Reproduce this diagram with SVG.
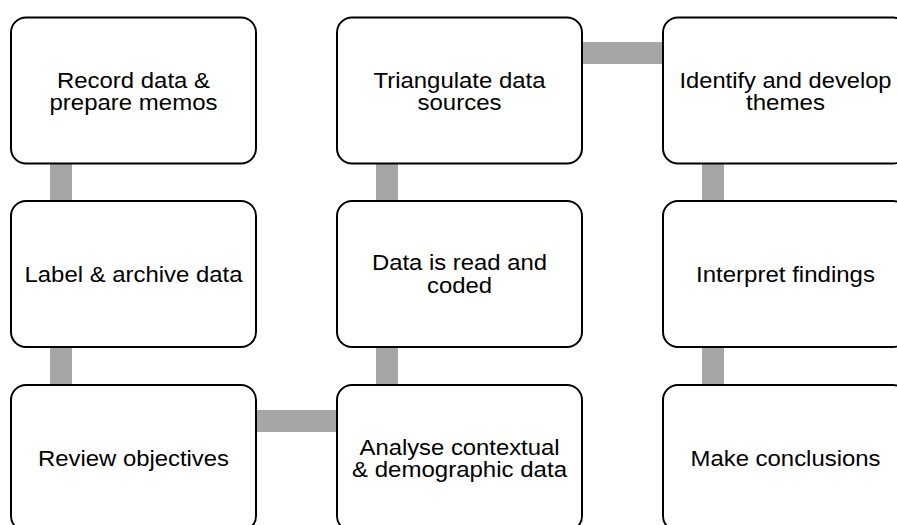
<svg xmlns="http://www.w3.org/2000/svg" width="897" height="525" viewBox="0 0 897 525">
  <style>
    .box { fill: #ffffff; stroke: #000000; stroke-width: 2; }
    .link { fill: #a6a6a6; stroke: none; }
    .label { font-family: "Liberation Sans", Arial, sans-serif; font-size: 21.5px; fill: #000000; text-anchor: middle; }
  </style>
  <rect width="897" height="525" fill="#ffffff"/>

  <!-- connectors -->
  <g id="connectors">
    <rect class="link" x="50" y="163" width="22" height="39"/>
    <rect class="link" x="50" y="347" width="22" height="39"/>
    <rect class="link" x="256" y="410" width="82" height="22"/>
    <rect class="link" x="376" y="347" width="22" height="39"/>
    <rect class="link" x="376" y="163" width="22" height="39"/>
    <rect class="link" x="582" y="42" width="82" height="22"/>
    <rect class="link" x="702" y="163" width="22" height="39"/>
    <rect class="link" x="702" y="347" width="22" height="39"/>
  </g>

  <!-- column 1 -->
  <g id="record-data">
    <rect class="box" x="11" y="17.5" width="245" height="146" rx="15"/>
    <text class="label" x="133.5" y="87.5" textLength="153" lengthAdjust="spacingAndGlyphs">Record data &amp;</text>
    <text class="label" x="133.5" y="110" textLength="168" lengthAdjust="spacingAndGlyphs">prepare memos</text>
  </g>
  <g id="label-archive">
    <rect class="box" x="11" y="201" width="245" height="146" rx="15"/>
    <text class="label" x="133.5" y="281.5" textLength="218" lengthAdjust="spacingAndGlyphs">Label &amp; archive data</text>
  </g>
  <g id="review-objectives">
    <rect class="box" x="11" y="385" width="245" height="146" rx="15"/>
    <text class="label" x="133.5" y="466" textLength="191" lengthAdjust="spacingAndGlyphs">Review objectives</text>
  </g>

  <!-- column 2 -->
  <g id="triangulate">
    <rect class="box" x="337" y="17.5" width="245" height="146" rx="15"/>
    <text class="label" x="459.5" y="87.5" textLength="172" lengthAdjust="spacingAndGlyphs">Triangulate data</text>
    <text class="label" x="459.5" y="110" textLength="84" lengthAdjust="spacingAndGlyphs">sources</text>
  </g>
  <g id="read-coded">
    <rect class="box" x="337" y="201" width="245" height="146" rx="15"/>
    <text class="label" x="459.5" y="270" textLength="175" lengthAdjust="spacingAndGlyphs">Data is read and</text>
    <text class="label" x="459.5" y="293" textLength="65" lengthAdjust="spacingAndGlyphs">coded</text>
  </g>
  <g id="analyse-context">
    <rect class="box" x="337" y="385" width="245" height="146" rx="15"/>
    <text class="label" x="459.5" y="454.5" textLength="200" lengthAdjust="spacingAndGlyphs">Analyse contextual</text>
    <text class="label" x="459.5" y="477" textLength="215" lengthAdjust="spacingAndGlyphs">&amp; demographic data</text>
  </g>

  <!-- column 3 -->
  <g id="identify-themes">
    <rect class="box" x="663" y="17.5" width="245" height="146" rx="15"/>
    <text class="label" x="785.5" y="87.5" textLength="212" lengthAdjust="spacingAndGlyphs">Identify and develop</text>
    <text class="label" x="785.5" y="110" textLength="79" lengthAdjust="spacingAndGlyphs">themes</text>
  </g>
  <g id="interpret-findings">
    <rect class="box" x="663" y="201" width="245" height="146" rx="15"/>
    <text class="label" x="785.5" y="281.5" textLength="179" lengthAdjust="spacingAndGlyphs">Interpret findings</text>
  </g>
  <g id="make-conclusions">
    <rect class="box" x="663" y="385" width="245" height="146" rx="15"/>
    <text class="label" x="785.5" y="466" textLength="190" lengthAdjust="spacingAndGlyphs">Make conclusions</text>
  </g>
</svg>
